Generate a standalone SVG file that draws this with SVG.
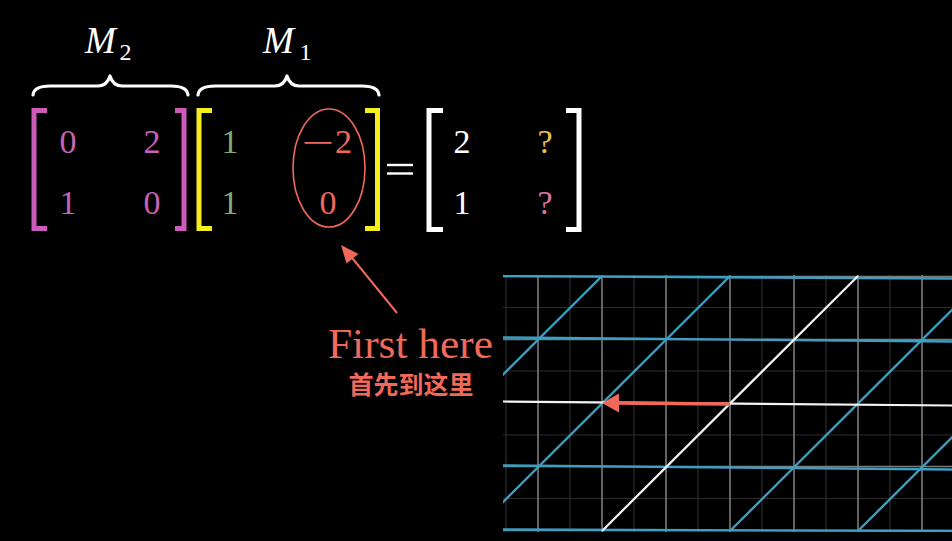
<svg xmlns="http://www.w3.org/2000/svg" width="952" height="541" viewBox="0 0 952 541">
<defs>
<style>
.num{font-family:"Liberation Serif","DejaVu Serif",serif;font-size:34px;text-anchor:middle}
.lbl{font-family:"Liberation Serif","DejaVu Serif",serif;font-style:italic;fill:#fff;font-size:37px}
.sub{font-family:"Liberation Serif","DejaVu Serif",serif;font-style:normal;fill:#fff;font-size:24px}
.brk{fill:none;stroke-width:5;stroke-linecap:butt;stroke-linejoin:miter}
.brace{fill:none;stroke:#fff;stroke-width:3.2;stroke-linecap:round;stroke-linejoin:round}
.minor{stroke:#2c2c2c;stroke-width:1.2}
.major{stroke:#7c7c7c;stroke-width:1.6}
.blue{stroke:#3d9fc2;stroke-width:2.4}
.white{stroke:#f4f4f4;stroke-width:2.2}
.red{stroke:#F0695A;fill:none}
</style>
<clipPath id="gridclip"><rect x="503" y="275" width="449" height="257"/></clipPath>
</defs>
<rect width="952" height="541" fill="#000"/>

<g id="m2-label">
<path class="brace" d="M33 95 Q34 86 50 86 L98 86 Q107 86 110 76 Q113 86 122 86 L171 86 Q187 86 188 95"/>
<text class="lbl" x="85" y="53">M</text>
<text class="sub" x="119.5" y="60">2</text>
</g>

<g id="m1-label">
<path class="brace" d="M198 95 Q199 86 215 86 L275 86 Q284 86 287 76 Q290 86 299 86 L362 86 Q378 86 379 95"/>
<text class="lbl" x="263" y="53">M</text>
<text class="sub" x="299.5" y="60">1</text>
</g>

<g id="matrix-m2">
<path class="brk" stroke="#CD5BBC" d="M47 110.5 H34 V228.5 H47"/>
<path class="brk" stroke="#CD5BBC" d="M175 110.5 H184 V228.5 H175"/>
<g fill="#C862B7">
<text class="num" x="68" y="153">0</text>
<text class="num" x="152" y="153">2</text>
<text class="num" x="68" y="214">1</text>
<text class="num" x="152" y="214">0</text>
</g>
</g>

<g id="matrix-m1">
<path class="brk" stroke="#F5EE1E" d="M212 110.5 H199 V228.5 H212"/>
<path class="brk" stroke="#F5EE1E" d="M365 110.5 H377.5 V228.5 H365"/>
<text class="num" x="230" y="153" fill="#80AD6C">1</text>
<text class="num" x="230" y="214" fill="#80AD6C">1</text>
<text class="num" transform="translate(317.5 153.5) scale(1.7 1)" x="0" y="0" fill="#F0695A">−</text>
<text class="num" x="343.5" y="153" fill="#F0695A">2</text>
<text class="num" x="328" y="214" fill="#F0695A">0</text>
<ellipse cx="329" cy="168" rx="36" ry="59" class="red" stroke-width="1.6"/>
</g>

<g id="equals">
<line x1="387" y1="165" x2="413" y2="165" stroke="#fff" stroke-width="2.4"/>
<line x1="387" y1="173.5" x2="413" y2="173.5" stroke="#fff" stroke-width="2.4"/>
</g>

<g id="matrix-result">
<path class="brk" stroke="#fff" d="M443 110.5 H429 V229.5 H443"/>
<path class="brk" stroke="#fff" d="M566 110.5 H579 V229.5 H566"/>
<text class="num" x="462" y="153" fill="#fff">2</text>
<text class="num" x="462" y="214" fill="#fff">1</text>
<text class="num" x="545" y="153" fill="#EFC04A">?</text>
<text class="num" x="545" y="214" fill="#D975A8">?</text>
</g>

<g id="label-first-here">
<text x="328" y="358" font-family="'Liberation Serif','DejaVu Serif',serif" font-size="43" fill="#F0695A" textLength="165" lengthAdjust="spacingAndGlyphs">First here</text>
<text x="411" y="394" text-anchor="middle" font-family="'Noto Sans CJK SC','Noto Sans',sans-serif" font-weight="bold" font-size="25" fill="#F0695A">首先到这里</text>
</g>

<g id="grid" clip-path="url(#gridclip)">
<g class="minor">
<line x1="506" y1="270" x2="506" y2="540"/>
<line x1="570" y1="270" x2="570" y2="540"/>
<line x1="634" y1="270" x2="634" y2="540"/>
<line x1="698" y1="270" x2="698" y2="540"/>
<line x1="762" y1="270" x2="762" y2="540"/>
<line x1="826" y1="270" x2="826" y2="540"/>
<line x1="890" y1="270" x2="890" y2="540"/>
<line x1="500" y1="307.5" x2="952" y2="307.5"/>
<line x1="500" y1="371" x2="952" y2="371"/>
<line x1="500" y1="435" x2="952" y2="435"/>
<line x1="500" y1="498.5" x2="952" y2="498.5"/>
</g>
<g class="major">
<line x1="538" y1="270" x2="538" y2="540"/>
<line x1="602" y1="270" x2="602" y2="540"/>
<line x1="666" y1="270" x2="666" y2="540"/>
<line x1="730" y1="270" x2="730" y2="540"/>
<line x1="794" y1="270" x2="794" y2="540"/>
<line x1="858" y1="270" x2="858" y2="540"/>
<line x1="922" y1="270" x2="922" y2="540"/>
<line x1="500" y1="276.5" x2="952" y2="276.5"/>
<line x1="500" y1="339.5" x2="952" y2="339.5"/>
<line x1="500" y1="466.5" x2="952" y2="466.5"/>
<line x1="500" y1="530.5" x2="952" y2="530.5"/>
</g>
<g class="blue">
<line x1="503" y1="276" x2="952" y2="278.5"/>
<line x1="503" y1="337.5" x2="952" y2="341.5"/>
<line x1="503" y1="465.5" x2="952" y2="469.5"/>
<line x1="503" y1="529.5" x2="952" y2="531"/>
<line x1="602" y1="276" x2="346" y2="531"/>
<line x1="730" y1="276" x2="474" y2="531"/>
<line x1="986" y1="276" x2="730" y2="531"/>
<line x1="1114" y1="276" x2="858" y2="531"/>
</g>
<g class="white">
<line x1="503" y1="401.5" x2="952" y2="405.5"/>
<line x1="858" y1="276" x2="602" y2="531"/>
</g>
</g>

<g id="connectors">
<line x1="730" y1="404" x2="615" y2="403" stroke="#F0695A" stroke-width="3.5"/>
<polygon points="602,403 619,393.5 619,412.5" fill="#F0695A"/>
<line x1="397" y1="313" x2="351" y2="256.5" stroke="#F0695A" stroke-width="2"/>
<polygon points="341,245 358.5,254 346.5,263.5" fill="#F0695A"/>
</g>
</svg>
